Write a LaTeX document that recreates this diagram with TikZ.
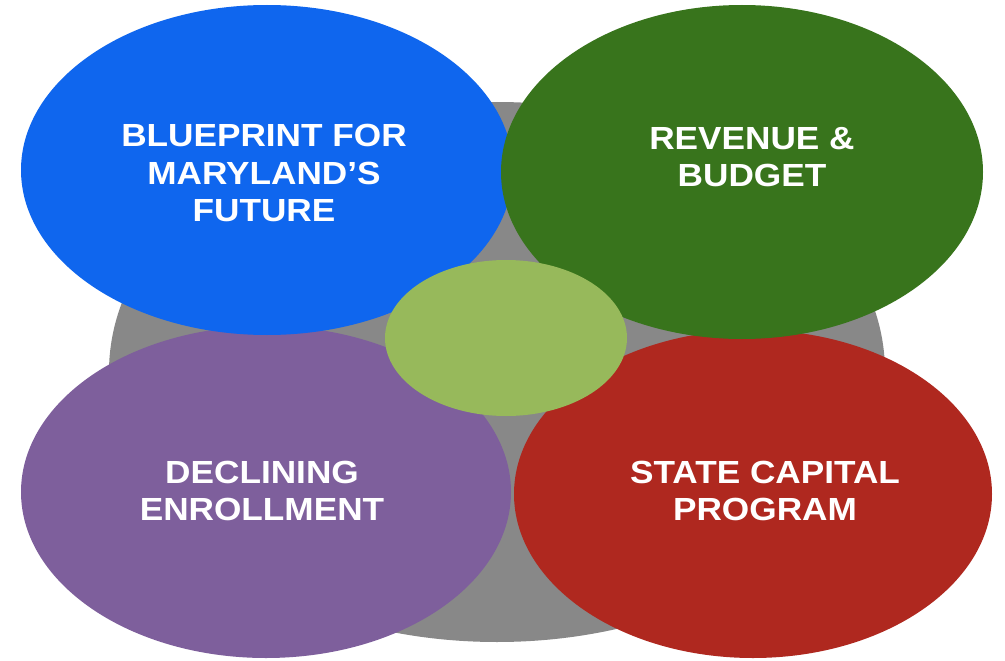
\documentclass[tikz,border=0pt]{standalone}
\usepackage{fontspec}
\newfontfamily\labfont{Liberation Sans}[FakeStretch=1.1]
\usetikzlibrary{shapes.geometric}
\definecolor{cgray}{HTML}{888888}
\definecolor{cblue}{HTML}{0F66EE}
\definecolor{cdgreen}{HTML}{38741C}
\definecolor{cpurple}{HTML}{7E5F9C}
\definecolor{cred}{HTML}{AF281F}
\definecolor{clgreen}{HTML}{97B95B}
\begin{document}
\begin{tikzpicture}[x=1pt,y=-1pt,
  bubble/.style={ellipse,draw=none,inner sep=0pt,outer sep=0pt},
  lab/.style={text=white,align=center,font=\labfont\bfseries\fontsize{32}{37.5}\selectfont,inner sep=0pt}]
\useasboundingbox (0,0) rectangle (1005,661);
\fill[white] (0,0) rectangle (1005,661);
\node[bubble,fill=cgray,minimum width=776pt,minimum height=540pt] (base) at (497,372) {};
\node[bubble,fill=cpurple,minimum width=490pt,minimum height=332pt] (enr) at (266,492) {};
\node[bubble,fill=cred,minimum width=478pt,minimum height=328pt] (cap) at (753,494) {};
\node[bubble,fill=cblue,minimum width=492pt,minimum height=330pt] (bp) at (267,170) {};
\node[bubble,fill=cdgreen,minimum width=482pt,minimum height=334pt] (rev) at (742,172) {};
\node[bubble,fill=clgreen,minimum width=242pt,minimum height=156pt] (core) at (506,338) {};
\node[lab] (bpt) at (264,173) {BLUEPRINT FOR\\MARYLAND’S\\FUTURE};
\node[lab] (revt) at (752,157) {REVENUE \&\\BUDGET};
\node[lab] (enrt) at (262,491) {DECLINING\\ENROLLMENT};
\node[lab] (capt) at (765,491) {STATE CAPITAL\\PROGRAM};
\end{tikzpicture}
\end{document}
